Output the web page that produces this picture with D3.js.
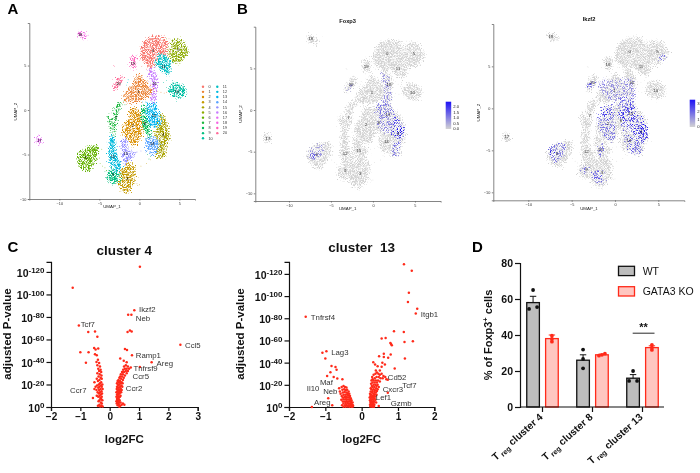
<!DOCTYPE html>
<html>
<head>
<meta charset="utf-8">
<script src="https://cdn.jsdelivr.net/npm/d3@7"></script>
<style>
  body { margin: 0; background: #fff; }
  svg { display: block; filter: blur(0.32px); }
  text { font-family: "Liberation Sans", Arial, sans-serif; }
</style>
</head>
<body>
<svg id="fig" width="700" height="473" xmlns="http://www.w3.org/2000/svg"></svg>
<script>
// cluster outlines on the UMAP as [UMAP_1, UMAP_2]
var clusterOutlines = [
  [[0.2,6.5],[0.6,7.6],[1.4,8.1],[2.6,8.2],[3.4,7.5],[3.4,6.6],[2.8,5.6],[2.0,5.2],[1.4,4.8],[0.7,5.3],[0.2,5.8]],
  [[-1.9,1.2],[-1.5,2.2],[-0.8,2.8],[-0.2,3.9],[0.4,3.6],[1.0,2.9],[1.6,2.0],[0.8,1.4],[-0.3,1.0],[-1.2,0.9]],
  [[-1.9,-1.9],[-1.2,-0.9],[-1.1,0],[-0.4,0.1],[0.2,-0.9],[0.3,-2.4],[-0.1,-3.3],[-0.8,-3.9],[-1.3,-3.2],[-2.0,-2.6]],
  [[-2.4,-7.6],[-1.9,-6.4],[-1.2,-6.0],[-0.6,-6.6],[-0.6,-7.5],[-0.9,-8.4],[-1.5,-9.2],[-2.2,-9.0],[-2.5,-8.4]],
  [[2.3,-0.3],[3.0,-0.8],[3.6,-2.3],[3.7,-3.2],[3.2,-4.3],[3.0,-5.2],[2.2,-5.3],[2.4,-3.8],[2.0,-2.6],[2.4,-1.5]],
  [[3.9,7.0],[4.2,7.8],[4.9,7.9],[5.6,7.3],[6.0,6.6],[5.5,5.8],[4.9,5.4],[4.3,5.4],[3.8,6.0]],
  [[-7.7,-5.4],[-7.0,-4.5],[-6.0,-4.1],[-5.2,-4.1],[-5.2,-4.9],[-5.7,-6.0],[-6.4,-6.8],[-7.2,-6.4]],
  [[-2.4,0.8],[-3.0,0.2],[-3.2,-1.5],[-3.9,-0.8],[-3.4,-2.5],[-3.3,-3.0],[-2.9,-1.5],[-2.7,-0.2],[-2.2,0.7]],
  [[0.4,0.5],[0.9,0.0],[1.2,-1.5],[1.3,-3.0],[0.8,-2.4],[0.4,-1.2]],
  [[-4.0,-7.3],[-3.4,-6.7],[-2.6,-7.0],[-2.5,-7.8],[-3.2,-8.2],[-3.9,-7.9]],
  [[3.8,2.5],[4.2,3.0],[5.0,2.9],[5.6,2.4],[5.6,1.8],[5.0,1.4],[4.3,1.5],[3.9,1.8]],
  [[2.3,6.0],[3.0,6.2],[3.8,5.3],[3.9,4.6],[3.5,4.0],[3.1,4.2],[2.5,4.7],[2.2,5.3]],
  [[-3.6,-2.9],[-3.2,-3.0],[-3.1,-4.4],[-2.6,-5.6],[-2.4,-6.6],[-3.0,-6.8],[-3.6,-5.9],[-3.7,-4.4]],
  [[1.0,0.5],[1.9,0.7],[2.4,-0.4],[2.5,-1.5],[1.8,-1.9],[1.1,-1.0]],
  [[0.9,-3.5],[1.5,-3.0],[2.3,-3.4],[2.3,-4.3],[1.5,-4.9],[1.0,-4.4]],
  [[-2.1,-3.4],[-1.6,-3.3],[-1.4,-4.6],[-0.6,-4.9],[-1.3,-5.6],[-1.8,-6.0],[-2.1,-5.0]],
  [[1.3,4.7],[1.8,4.3],[2.2,3.3],[2.0,2.2],[1.9,1.0],[1.5,1.0],[1.7,2.4],[1.4,3.4]],
  [[-12.8,-3.0],[-12.4,-3.2],[-12.3,-3.7],[-12.7,-3.7]],
  [[-7.7,8.7],[-7.3,8.8],[-6.7,8.2],[-7.2,8.2]],
  [[-1.0,5.9],[-0.6,5.9],[-0.5,5.2],[-0.8,4.6],[-1.0,5.0]],
  [[-3.2,2.4],[-2.6,3.6],[-2.2,3.8],[-2.4,3.0],[-3.0,2.3]]
];

// where the cluster number is printed
var clusterCentres = [
  [1.7,6.7],[-0.1,2.1],[-0.8,-1.8],[-1.5,-7.7],[3.0,-2.8],[4.9,6.8],[-6.7,-5.4],[-2.9,-0.9],[0.7,-1.5],[-3.3,-7.3],
  [4.7,2.1],[3.0,4.9],[-3.3,-5.2],[1.8,-0.6],[1.6,-3.8],[-1.7,-4.9],[1.9,3.0],[-12.5,-3.4],[-7.4,8.5],[-0.8,5.2],[-2.6,3.0]
];

// loose cells outside the blobs as [cluster, UMAP_1, UMAP_2]
var strayCells = [
  [6,-4.9,-6.0],[6,-4.6,-6.3],[6,-4.3,-6.5],[6,-4.1,-6.8],[9,-4.3,-6.9],[9,-3.9,-7.0],[6,-5.0,-5.4],[6,-4.7,-4.4],
  [1,1.9,2.1],[1,2.3,2.1],[1,2.7,2.0],[1,3.1,1.9],[1,3.4,2.0],[10,3.6,2.2],[10,3.4,3.3],[10,3.0,3.1],
  [0,1.3,4.3],[0,0.9,4.6],[0,0.3,4.9],[0,3.1,8.4],[0,3.7,8.0],[5,3.4,8.0],[5,3.7,4.9],
  [3,-0.3,-8.3],[3,-0.2,-8.5],[3,0.0,-8.4],[3,-0.5,-6.5],[3,0.2,-6.3],[3,0.9,-6.0],[3,1.4,-5.6],[8,1.2,-5.5],[8,1.4,-5.2],
  [8,1.0,-5.0],[20,-3.2,5.0],[20,-3.1,4.9],[11,-1.5,3.1],[11,-1.4,3.4],[11,-1.6,2.8],[13,0.4,0.9],[13,0.8,0.9],
  [7,-2.0,1.0],[7,-1.8,0.6],[7,-3.6,-1.3],[7,-3.8,-0.4],[12,-3.8,-4.8],[12,-2.9,-3.6],[15,-1.0,-4.5],[15,-0.3,-4.7],[15,0.2,-4.6],
  [18,-6.6,8.3],[18,-6.4,8.4],[17,-12.6,-2.8],[19,-0.4,6.1]
];

// expressing regions of the two feature plots as [level, outline]
var foxp3Regions = [
  [0.3, [[1.0,4.3],[1.6,4.4],[2.2,2.6],[2.1,0.8],[1.2,0.8],[1.3,2.6]]],
  [0.45, [[0.6,0.8],[1.7,0.9],[2.6,-0.6],[2.5,-1.8],[1.2,-1.6],[0.5,-1.0]]],
  [0.35, [[0.5,-1.5],[2.2,-1.5],[2.4,-2.6],[1.4,-2.9]]],
  [0.7, [[2.4,-0.7],[3.2,-1.3],[3.8,-2.6],[3.5,-3.6],[2.6,-3.4],[2.2,-2.4]]],
  [1.0, [[2.5,-2.3],[3.2,-2.0],[3.7,-2.7],[3.3,-3.2],[2.6,-3.1]]],
  [0.45, [[2.4,-4.0],[3.2,-3.8],[3.3,-4.6],[3.0,-5.5],[2.4,-5.6]]],
  [0.3, [[-7.7,-5.0],[-6.6,-4.3],[-5.7,-4.2],[-6.0,-5.2],[-7.0,-6.1]]],
  [0.7, [[-7.6,-5.2],[-7.1,-5.0],[-7.0,-5.6],[-7.5,-5.7]]],
  [0.35, [[-3.2,2.5],[-2.7,3.1],[-2.5,2.8],[-3.0,2.3]]]
];

var ikzf2Regions = [
  [0.3, [[-1.9,3.2],[0.0,3.4],[1.9,3.4],[2.2,1.0],[0.9,0.3],[-1.0,1.2]]],
  [0.45, [[-1.6,0.0],[-0.3,0.2],[0.1,-1.5],[-0.2,-3.8],[-1.5,-3.2],[-2.0,-2.0]]],
  [0.8, [[-1.3,-0.1],[-0.4,0.0],[-0.4,-1.0],[-1.0,-1.4]]],
  [0.6, [[0.6,1.2],[2.1,0.9],[2.2,-1.5],[1.4,-2.8],[0.6,-1.8]]],
  [0.9, [[0.5,-0.1],[1.0,-0.1],[1.0,-1.4],[0.5,-1.3]]],
  [0.85, [[1.5,0.0],[2.2,0.0],[2.1,-1.0],[1.6,-1.0]]],
  [0.8, [[2.0,-0.9],[3.0,-1.0],[3.9,-2.6],[3.5,-3.9],[2.4,-4.2],[1.9,-2.6]]],
  [1.0, [[2.7,-2.4],[3.4,-1.9],[3.8,-2.8],[3.2,-3.3]]],
  [0.6, [[1.5,-4.2],[2.9,-4.0],[3.0,-5.2],[1.9,-5.6]]],
  [0.7, [[1.0,-3.4],[1.9,-3.4],[2.0,-4.0],[1.2,-4.1]]],
  [0.45, [[-7.7,-5.0],[-6.7,-4.2],[-5.8,-4.2],[-5.9,-5.4],[-6.8,-6.5]]],
  [0.95, [[-7.6,-5.1],[-7.1,-4.9],[-7.0,-5.6],[-7.5,-5.7]]],
  [0.6, [[-2.5,-7.5],[-1.4,-7.6],[-1.1,-8.5],[-1.8,-9.1],[-2.4,-8.7]]],
  [0.45, [[-3.9,-7.0],[-3.2,-6.9],[-3.2,-7.6],[-3.8,-7.8]]],
  [0.5, [[-1.9,-4.2],[-1.5,-4.2],[-1.5,-5.6],[-1.9,-5.6]]],
  [0.45, [[5.0,5.9],[5.8,6.6],[5.8,6.2],[5.2,5.6]]],
  [0.6, [[-3.2,2.5],[-2.6,3.3],[-2.4,3.0],[-3.0,2.3]]]
];

var foxp3Ticks = [0, 0.5, 1, 1.5, 2];
var ikzf2Ticks = [0, 1, 2, 3];

// volcano points as [log2FC, -log10 adjusted P]
var cluster4Points = [
  [1.03,124.7],[-1.26,106],[0.84,86],[0.63,82],[0.74,82],[-1.05,72.5],[-0.73,66.7],[-0.5,67],[-0.42,62.5],
  [0.61,66.7],[0.69,68],[0.75,67],[2.41,55.4],[-1,48.6],[-0.72,48.6],[-0.53,52.4],[-0.39,52],[-0.48,51],
  [-0.81,39.4],[-0.5,46.8],[-0.44,46],[0.52,51.5],[0.59,50.6],[0.76,46],[0.36,43],[1.43,39.7],[1.03,35.5],[0.48,41],[0.58,39.7],
  [-0.4,42],[-0.45,40],[-0.36,39],[-0.42,37],[-0.33,36],[-0.39,34],[-0.31,33],[-0.36,32],[-0.29,31],[-0.42,30],[-0.34,29],
  [-0.28,28],[-0.38,27],[-0.31,26],[-0.44,25],[-0.27,25],[-0.35,24],[-0.4,23],[-0.29,22],[-0.33,21],[-0.52,22],[-0.25,20],
  [-0.37,20],[-0.43,19],[-0.3,19],[-0.27,18],[-0.35,18],[-0.48,18],[-0.39,17],[-0.31,16],[-0.24,16],[-0.45,15],[-0.36,15],
  [-0.28,14],[-0.52,16],[-0.33,13],[-0.41,13],[-0.26,12],[-0.37,12],[-0.3,11],[-0.44,10],[-0.34,10],[-0.27,9],[-0.39,9],
  [-0.32,8],[-0.57,8],[-0.29,7],[-0.35,6],[-0.25,6],[-0.38,5],[-0.3,4],[-0.27,3],[-0.35,2],[-0.4,1],[-0.28,1],[-0.24,0.5],[-0.32,0.5],
  [0.72,35],[0.62,36],[0.55,37],[0.49,36],[0.66,34],[0.58,34],[0.52,34],[0.46,33],[0.62,32],[0.55,32],[0.42,31],[0.49,31],
  [0.58,30],[0.38,29],[0.45,29],[0.52,28],[0.36,27],[0.42,27],[0.33,26],[0.48,26],[0.39,25],[0.3,24],[0.45,24],[0.35,23],
  [0.27,23],[0.41,22],[0.31,22],[0.37,21],[0.25,21],[0.44,21],[0.33,20],[0.28,20],[0.4,19],[0.3,19],[0.36,18],[0.25,18],
  [0.43,18],[0.32,17],[0.28,17],[0.38,16],[0.24,16],[0.34,15],[0.29,15],[0.41,15],[0.26,14],[0.36,14],[0.31,13],[0.23,13],
  [0.39,13],[0.28,12],[0.34,12],[0.25,11],[0.3,11],[0.37,10],[0.27,10],[0.32,9],[0.23,9],[0.35,9],[0.28,8],[0.25,7],[0.31,7],
  [0.34,6],[0.27,6],[0.23,5],[0.3,5],[0.26,4],[0.33,4],[0.29,3],[0.37,4],[0.45,3],[0.24,3],[0.41,2],[0.31,2],[0.27,1.5],[0.5,2],[0.36,1],[0.33,0.3]
];

var cluster13Points = [
  [1.165,128.7],[1.38,122.8],[1.3,103],[1.275,94.6],[1.53,88.6],[1.49,84.4],[-1.54,81.4],[0.89,68.3],[1.16,67.7],[0.66,62.3],[0.55,61.7],
  [1.18,58.7],[1.41,59.3],[0.79,57.8],[0.83,55.7],[0.81,56.8],[-1.08,49],[-0.97,50.3],[-1,43.7],[0.61,48],[0.8,47.3],[0.48,45.8],
  [0.73,44.3],[0.61,45],[1.19,43.7],[0.32,40.4],[0.57,40],[0.64,38.3],[0.37,38.3],[0.44,36.8],[0.91,34.7],[0.55,36.2],[0.5,33],[0.39,33],
  [-0.83,37],[-0.72,36],[-0.69,33.5],[-0.86,31.4],[-0.95,28],[-0.77,27],[-0.67,25.7],[-0.53,25],[0.72,12.9],[-0.92,7.8],[-0.81,1.5],[-1.37,0],
  [-0.62,17],[-0.55,18],[-0.5,19],[-0.46,18],[-0.42,17.5],[-0.6,14],[-0.53,15.5],[-0.48,16],[-0.44,15],[-0.4,15.5],[-0.36,14],[-0.58,12],
  [-0.52,13],[-0.47,13.5],[-0.42,13],[-0.38,12.5],[-0.34,12],[-0.55,10],[-0.5,11],[-0.45,11],[-0.4,11],[-0.36,10.5],[-0.32,10],[-0.52,8.5],
  [-0.47,9],[-0.43,9],[-0.38,8.8],[-0.34,8.5],[-0.3,8],[-0.56,6.5],[-0.5,7],[-0.45,7],[-0.41,7],[-0.36,6.8],[-0.32,6.5],[-0.28,6],[-0.52,5],
  [-0.47,5],[-0.42,5.2],[-0.38,5],[-0.33,5],[-0.29,4.5],[-0.25,4],[-0.5,3.2],[-0.44,3.5],[-0.39,3.5],[-0.35,3.2],[-0.3,3],[-0.27,2.5],
  [-0.54,1.5],[-0.46,1.5],[-0.42,1.8],[-0.37,1.5],[-0.32,1.5],[-0.28,1.2],[-0.24,1.5],[-0.5,0.3],[-0.44,0.3],[-0.38,0.4],[-0.33,0.3],[-0.27,0.3],[-0.24,0.4],
  [0.29,27],[0.33,29],[0.38,30],[0.42,31],[0.46,30],[0.5,29],[0.55,30],[0.6,28],[0.65,27],[0.68,25],[0.72,24.5],[0.58,26],[0.52,26],[0.47,27],
  [0.41,27],[0.36,26],[0.3,25],[0.27,24],[0.33,24],[0.39,24],[0.45,24],[0.5,23],[0.42,22],[0.36,22],[0.3,22],[0.26,21],[0.33,20],[0.38,20],
  [0.44,20],[0.28,19],[0.41,19],[0.47,18],[0.35,18],[0.3,18],[0.25,17],[0.4,17],[0.44,16],[0.33,16],[0.27,16],[0.37,15],[0.42,14.5],[0.3,14.5],
  [0.25,14],[0.35,13.5],[0.39,13],[0.28,13],[0.23,12],[0.32,12],[0.36,11.5],[0.26,11],[0.41,11],[0.3,10],[0.24,10],[0.34,10],[0.38,9.5],[0.27,9],
  [0.22,8.5],[0.31,8.5],[0.35,8],[0.25,7.5],[0.29,7],[0.33,6.5],[0.38,6.5],[0.23,6],[0.27,5.5],[0.31,5],[0.35,5],[0.24,4.5],[0.28,4],[0.33,3.5],
  [0.4,4],[0.25,3],[0.3,2.5],[0.35,2],[0.23,2],[0.27,1.5],[0.32,1],[0.24,0.5],[0.29,0.3],[0.34,0.3],[0.47,1]
];

// gene names, sitting at [log2FC, -log10 P] of their left end
var cluster4Genes = [
  ['Ikzf2',1.0,87],['Neb',0.89,79],['Tcf7',-0.99,73.5],['Ccl5',2.57,54.5],['Ramp1',0.89,45.6],['Areg',1.6,38.8],
  ['Tnfrsf9',0.81,34.5],['Ccr5',0.78,27.5],['Ccr2',0.55,16.6],['Ccr7',-1.35,15]
];
var cluster13Genes = [
  ['Tnfrsf4',-1.4,80.5],['Itgb1',1.63,83.8],['Lag3',-0.84,49.4],['Cd52',0.72,27.2],['Tcf7',1.12,20],['Maf',-1.15,21.9],
  ['Il10',-1.51,16.5],['Neb',-1.06,14.4],['Cxcr3',0.58,15.6],['Lef1',0.39,8.7],['Areg',-1.31,3.9],['Gzmb',0.8,3.3]
];
var volcanoTicks = [0, 20, 40, 60, 80, 100, 120];

// panel D
var barCategories = ['cluster 4', 'cluster 8', 'cluster 13'];
var barGroups = ['WT', 'GATA3 KO'];
var wtMeans = [58, 26, 16];
var koMeans = [38, 29, 33];
var wtErrors = [3.5, 3, 2];
var koErrors = [2, 0.4, 1];
var wtDots = [[65, 54.5, 55.5], [31.9, 26.7, 21.5], [20, 14.5, 14.5]];
var koDots = [[39.6, 37.8, 36.3], [28.5, 29, 29.6], [34.5, 33, 31.7]];
var percentTicks = [0, 20, 40, 60, 80];

var svg = d3.select('#fig');
var defs = svg.append('defs');
var red = '#ff2a1a';

svg.append('rect').attr('width', 700).attr('height', 473).attr('fill', '#fff');

// speckle and frayed edge so a filled outline reads as thousands of tiny cells
function makeSpeckle(id, gain, cut, fray) {
  var f = defs.append('filter').attr('id', id)
    .attr('filterUnits', 'userSpaceOnUse').attr('color-interpolation-filters', 'sRGB')
    .attr('x', 0).attr('y', 0).attr('width', 700).attr('height', 473);
  f.append('feTurbulence').attr('type', 'fractalNoise').attr('baseFrequency', 0.8)
    .attr('numOctaves', 1).attr('seed', 4).attr('result', 'wobble');
  f.append('feDisplacementMap').attr('in', 'SourceGraphic').attr('in2', 'wobble')
    .attr('scale', fray).attr('xChannelSelector', 'R').attr('yChannelSelector', 'G').attr('result', 'frayed');
  f.append('feTurbulence').attr('type', 'fractalNoise').attr('baseFrequency', 1.3)
    .attr('numOctaves', 1).attr('seed', 9);
  f.append('feColorMatrix').attr('type', 'matrix')
    .attr('values', '0 0 0 0 0 0 0 0 0 0 0 0 0 0 0 ' + gain + ' 0 0 0 ' + cut)
    .attr('result', 'grain');
  f.append('feComposite').attr('in', 'frayed').attr('in2', 'grain').attr('operator', 'in');
}
makeSpeckle('speckle', 5, -1.9, 12);
makeSpeckle('speckleGrey', 4, -1.4, 14);
makeSpeckle('speckleBlue', 7, -3.5, 9);

// UMAP panels
var umapPanels = {
  clusters: {xd: [-13.75, 6.95], yd: [-10, 9.78], l: 29.3, r: 195, t: 23, b: 199},
  foxp3: {xd: [-14.01, 8.07], yd: [-10.92, 10], l: 255.3, r: 440.7, t: 26.7, b: 201},
  ikzf2: {xd: [-14.04, 8], yd: [-10.95, 10.04], l: 493.3, r: 684.3, t: 24, b: 200.3}
};

function umapAxes(p, xLabel, yLabel) {
  p.x = d3.scaleLinear().domain(p.xd).range([p.l, p.r]);
  p.y = d3.scaleLinear().domain(p.yd).range([p.b, p.t]);
  var gx = svg.append('g').attr('transform', 'translate(0,' + p.b + ')')
    .call(d3.axisBottom(p.x).tickValues([-10, -5, 0, 5]).tickSize(1.5).tickPadding(1.5).tickFormat(d3.format('d')));
  var gy = svg.append('g').attr('transform', 'translate(' + p.l + ',0)')
    .call(d3.axisLeft(p.y).tickValues([-10, -5, 0, 5]).tickSize(1.5).tickPadding(1.5).tickFormat(d3.format('d')));
  [gx, gy].forEach(function(g) {
    g.selectAll('path,line').attr('stroke', '#666').attr('stroke-width', 0.8);
    g.selectAll('text').attr('font-size', 3.8).attr('fill', '#333').attr('font-family', '"Liberation Sans"');
  });
  svg.append('text').attr('x', xLabel[0]).attr('y', xLabel[1]).attr('text-anchor', 'middle')
    .attr('font-size', 4.4).attr('fill', '#222').text('UMAP_1');
  svg.append('text').attr('transform', 'translate(' + yLabel[0] + ',' + yLabel[1] + ') rotate(-90)')
    .attr('text-anchor', 'middle').attr('font-size', 4.4).attr('fill', '#222').text('UMAP_2');
}

function outlinePath(p) {
  return d3.line().x(function(d) { return p.x(d[0]); }).y(function(d) { return p.y(d[1]); })
    .curve(d3.curveCatmullRomClosed);
}

function clusterLabels(p, size, color) {
  svg.append('g').selectAll('text').data(clusterCentres).join('text')
    .attr('x', function(d) { return p.x(d[0]); })
    .attr('y', function(d) { return p.y(d[1]) + 1.3; })
    .attr('text-anchor', 'middle').attr('font-size', size).attr('fill', color)
    .text(function(d, i) { return i; });
}

// Seurat's default hue wheel for the 21 clusters
var hue = d3.scaleOrdinal().domain(d3.range(21)).range([
  '#F8766D', '#EB8335', '#DA8F00', '#C49A00', '#AAA300', '#8DAB00', '#62B200', '#1CB83F', '#00BC59', '#00BF7F',
  '#00C0A4', '#00BFC4', '#00BBDC', '#00B4F0', '#5AA4FF', '#9590FF', '#C77CFF', '#E76BF3', '#F564E3', '#FF62BC', '#FF6A98'
]);

var pa = umapPanels.clusters;
umapAxes(pa, [112, 208], [16.7, 111.7]);
var blobA = svg.append('g').attr('filter', 'url(#speckle)');
blobA.selectAll('path').data(clusterOutlines).join('path')
  .attr('d', outlinePath(pa))
  .attr('fill', function(d, i) { return hue(i); })
  .attr('stroke', function(d, i) { return hue(i); })
  .attr('stroke-width', 1.5);
svg.append('g').selectAll('circle').data(strayCells).join('circle')
  .attr('cx', function(d) { return pa.x(d[1]); })
  .attr('cy', function(d) { return pa.y(d[2]); })
  .attr('r', 0.45)
  .attr('fill', function(d) { return hue(d[0]); });
clusterLabels(pa, 3.8, '#000');

// cluster legend in two columns
var legendRow = d3.scaleLinear().domain([0, 10]).range([86.7, 138.3]);
var legendCol = d3.scaleOrdinal().domain([0, 1]).range([203, 217.3]);
var legendKeys = svg.append('g').selectAll('g').data(d3.range(21)).join('g')
  .attr('transform', function(d) {
    var second = d > 10 ? 1 : 0;
    return 'translate(' + legendCol(second) + ',' + legendRow(second ? d - 11 : d) + ')';
  });
legendKeys.append('circle').attr('r', 1.2).attr('fill', function(d) { return hue(d); });
legendKeys.append('text').attr('x', 5.5).attr('y', 1.3).attr('font-size', 3.8).attr('fill', '#333')
  .text(function(d) { return d; });

// feature plots
var lowBlue = d3.scaleLinear().domain([0, 1]).range(['#c4c0e0', '#1c10f5']);

function featurePanel(p, regions, xLabel, yLabel, title, titleX, titleY, bar, ticks, tickMax) {
  umapAxes(p, xLabel, yLabel);
  var line = outlinePath(p);
  svg.append('g').attr('filter', 'url(#speckleGrey)').selectAll('path').data(clusterOutlines).join('path')
    .attr('d', line).attr('fill', '#d2d2d2').attr('stroke', '#d2d2d2').attr('stroke-width', 3);
  svg.append('g').selectAll('circle').data(strayCells).join('circle')
    .attr('cx', function(d) { return p.x(d[1]); })
    .attr('cy', function(d) { return p.y(d[2]); })
    .attr('r', 0.4).attr('fill', '#d4d4d4');
  svg.append('g').attr('filter', 'url(#speckleBlue)').selectAll('path').data(regions).join('path')
    .attr('d', function(d) { return line(d[1]); })
    .attr('fill', function(d) { return lowBlue(d[0]); });
  clusterLabels(p, 4.4, '#333');
  svg.append('text').attr('x', titleX).attr('y', titleY).attr('text-anchor', 'middle')
    .attr('font-size', 5.7).attr('font-weight', 'bold').attr('fill', '#111').text(title);

  var gid = 'ramp' + title;
  var grad = defs.append('linearGradient').attr('id', gid).attr('x1', 0).attr('x2', 0).attr('y1', 1).attr('y2', 0);
  grad.append('stop').attr('offset', 0).attr('stop-color', '#d3d3d3');
  grad.append('stop').attr('offset', 1).attr('stop-color', '#1c10f5');
  svg.append('rect').attr('x', bar.x).attr('y', bar.t).attr('width', 5.5).attr('height', bar.b - bar.t)
    .attr('fill', 'url(#' + gid + ')');
  var scale = d3.scaleLinear().domain([0, tickMax]).range([bar.b, bar.t + bar.pad]);
  svg.append('g').selectAll('text').data(ticks).join('text')
    .attr('x', bar.x + 7.5)
    .attr('y', function(d) { return scale(d) + 1.4; })
    .attr('font-size', 4.2).attr('fill', '#222')
    .text(function(d) { return tickMax === 2 ? d3.format('.1f')(d) : d; });
}

featurePanel(umapPanels.foxp3, foxp3Regions, [347.7, 210], [241.7, 114], 'Foxp3', 347.6, 22.5,
  {x: 445.7, t: 101.7, b: 129, pad: 5}, foxp3Ticks, 2);
featurePanel(umapPanels.ikzf2, ikzf2Regions, [589, 209.7], [480, 112.7], 'Ikzf2', 589, 20.5,
  {x: 689.7, t: 99.7, b: 127, pad: 4}, ikzf2Ticks, 3);

// volcano plots
function volcano(points, genes, xd, xr, top, xTicks, title, titleY, yTitleX) {
  var x = d3.scaleLinear().domain(xd).range(xr);
  var y = d3.scaleLinear().domain([0, top]).range([407, 261.8]);

  var gx = svg.append('g').attr('transform', 'translate(0,407)')
    .call(d3.axisBottom(x).tickValues(xTicks).tickSize(4).tickPadding(2).tickFormat(d3.format('d')));
  gx.selectAll('text').attr('font-size', 10).attr('font-weight', 'bold').attr('fill', '#111')
    .attr('font-family', '"Liberation Sans"');
  var gy = svg.append('g').attr('transform', 'translate(' + xr[0] + ',0)')
    .call(d3.axisLeft(y).tickValues(volcanoTicks).tickSize(4.5).tickPadding(2).tickFormat(''));
  gy.selectAll('.tick text').each(function(d) {
    var t = d3.select(this).attr('font-family', '"Liberation Sans"').attr('font-weight', 'bold')
      .attr('fill', '#111').attr('font-size', 10.5).attr('dy', '0.42em');
    t.append('tspan').text('10');
    t.append('tspan').attr('font-size', 8).attr('dy', '-0.45em').text(d === 0 ? '0' : '-' + d);
  });
  [gx, gy].forEach(function(g) {
    g.selectAll('path,line').attr('stroke', '#111').attr('stroke-width', 1.2);
  });

  svg.append('g').selectAll('circle').data(points).join('circle')
    .attr('cx', function(d) { return x(d[0]); })
    .attr('cy', function(d) { return y(d[1]); })
    .attr('r', 1.25).attr('fill', red);

  svg.append('g').selectAll('text').data(genes).join('text')
    .attr('x', function(d) { return x(d[1]); })
    .attr('y', function(d) { return y(d[2]) + 2.7; })
    .attr('font-size', 7.8).attr('fill', '#333')
    .text(function(d) { return d[0]; });

  var mid = (x(xTicks[0]) + x(xTicks[xTicks.length - 1])) / 2;
  svg.append('text').attr('x', title === 'cluster 4' ? 124.3 : mid).attr('y', titleY).attr('text-anchor', 'middle')
    .attr('font-size', 13.5).attr('font-weight', 'bold').attr('fill', '#111').style('white-space', 'pre').text(title);
  svg.append('text').attr('x', title === 'cluster 4' ? 124.3 : mid).attr('y', 443).attr('text-anchor', 'middle')
    .attr('font-size', 11.5).attr('font-weight', 'bold').attr('fill', '#111').text('log2FC');
  svg.append('text').attr('transform', 'translate(' + yTitleX + ',334) rotate(-90)').attr('text-anchor', 'middle')
    .attr('font-size', 11.5).attr('font-weight', 'bold').attr('fill', '#111').text('adjusted P-value');
}

volcano(cluster4Points, cluster4Genes, [-2, 3], [51, 197.7], 129, [-2, -1, 0, 1, 2, 3], 'cluster 4', 255, 10.6);
volcano(cluster13Points, cluster13Genes, [-2, 2], [289, 434.3], 130.9, [-2, -1, 0, 1, 2], 'cluster  13', 252, 244);

// panel D bars
var by = d3.scaleLinear().domain([0, 80]).range([407, 263]);
var bx = d3.scaleBand().domain(barCategories).range([517.5, 667.5]);
var inner = d3.scaleBand().domain(barGroups).range([0, 31.5]).paddingInner(0.33);
var barSeries = [
  {group: barGroups[0], means: wtMeans, errors: wtErrors, dots: wtDots, fill: '#bdbdbd', stroke: '#111'},
  {group: barGroups[1], means: koMeans, errors: koErrors, dots: koDots, fill: '#ffc6c0', stroke: red}
];
var groupLeft = function(c) { return bx(c) + (bx.bandwidth() - 31.5) / 2; };

barSeries.forEach(function(s) {
  var g = svg.append('g');
  var cx = function(i) { return groupLeft(barCategories[i]) + inner(s.group) + inner.bandwidth() / 2; };
  g.selectAll('rect').data(s.means).join('rect')
    .attr('x', function(d, i) { return cx(i) - inner.bandwidth() / 2; })
    .attr('y', function(d) { return by(d); })
    .attr('width', inner.bandwidth())
    .attr('height', function(d) { return by(0) - by(d); })
    .attr('fill', s.fill).attr('stroke', s.stroke).attr('stroke-width', 1.3);
  s.errors.forEach(function(e, i) {
    g.append('path')
      .attr('d', 'M' + cx(i) + ',' + by(s.means[i]) + 'V' + by(s.means[i] + e) + 'm-3.2,0h6.4')
      .attr('fill', 'none').attr('stroke', s.stroke).attr('stroke-width', 1);
  });
  s.dots.forEach(function(ds, i) {
    var spread = s.group === 'WT' ? [0, -4, 4] : [0, 0, 0];
    ds.forEach(function(d, j) {
      var shift = s.group === 'WT' && i === 1 ? 0 : spread[j];
      if (s.group === 'GATA3 KO' && i === 1) shift = [-3, 0, 3][j];
      g.append('circle').attr('cx', cx(i) + shift).attr('cy', by(d)).attr('r', 1.9).attr('fill', s.stroke);
    });
  });
});

var dAxisY = svg.append('g').attr('transform', 'translate(520,0)')
  .call(d3.axisLeft(by).tickValues(percentTicks).tickSize(5).tickPadding(2).tickFormat(d3.format('d')));
dAxisY.selectAll('text').attr('font-size', 10.5).attr('font-weight', 'bold').attr('fill', '#111')
  .attr('font-family', '"Liberation Sans"');
var dAxisX = svg.append('g').attr('transform', 'translate(0,407)')
  .call(d3.axisBottom(bx).tickSize(5).tickFormat(''));
dAxisX.select('.domain').attr('d', 'M520,0H664');
[dAxisY, dAxisX].forEach(function(g) {
  g.selectAll('path,line').attr('stroke', '#111').attr('stroke-width', 1.2);
});

// slanted category names with the reg subscript
barCategories.forEach(function(c) {
  var t = svg.append('text')
    .attr('transform', 'translate(' + (bx(c) + bx.bandwidth() / 2 + 1) + ',418) rotate(-42)')
    .attr('text-anchor', 'end').attr('font-size', 10.2).attr('font-weight', 'bold').attr('fill', '#111');
  t.append('tspan').text('T');
  t.append('tspan').attr('font-size', 7.2).attr('dy', 2).text(' reg');
  t.append('tspan').attr('dy', -2).text(' ' + c);
});

var dTitle = svg.append('text').attr('transform', 'translate(491.5,335) rotate(-90)').attr('text-anchor', 'middle')
  .attr('font-size', 11).attr('font-weight', 'bold').attr('fill', '#111');
dTitle.append('tspan').text('% of Foxp3');
dTitle.append('tspan').attr('font-size', 7.5).attr('dy', -4).text('+');
dTitle.append('tspan').attr('dy', 4).text(' cells');

// significance bar over cluster 13
svg.append('path').attr('d', 'M632.7,' + by(41) + 'H654.5').attr('stroke', '#111').attr('stroke-width', 0.9);
svg.append('text').attr('x', 643.5).attr('y', by(41) - 2.5).attr('text-anchor', 'middle')
  .attr('font-size', 11).attr('font-weight', 'bold').attr('fill', '#111').text('**');

// legend for the bars
var legendY = d3.scaleOrdinal().domain(barGroups).range([266.3, 286.7]);
barSeries.forEach(function(s) {
  svg.append('rect').attr('x', 618.5).attr('y', legendY(s.group)).attr('width', 16).attr('height', 9.3)
    .attr('fill', s.fill).attr('stroke', s.stroke).attr('stroke-width', 1.3);
  svg.append('text').attr('x', 642.7).attr('y', legendY(s.group) + 8.4).attr('font-size', 10.5).attr('fill', '#111').text(s.group);
});

// panel letters
var panelLetters = [['A', 7.5, 14], ['B', 237, 14], ['C', 7.5, 252], ['D', 472, 252]];
svg.append('g').selectAll('text').data(panelLetters).join('text')
  .attr('x', function(d) { return d[1]; })
  .attr('y', function(d) { return d[2]; })
  .attr('font-size', 15).attr('font-weight', 'bold').attr('fill', '#000')
  .text(function(d) { return d[0]; });
</script>
</body>
</html>
